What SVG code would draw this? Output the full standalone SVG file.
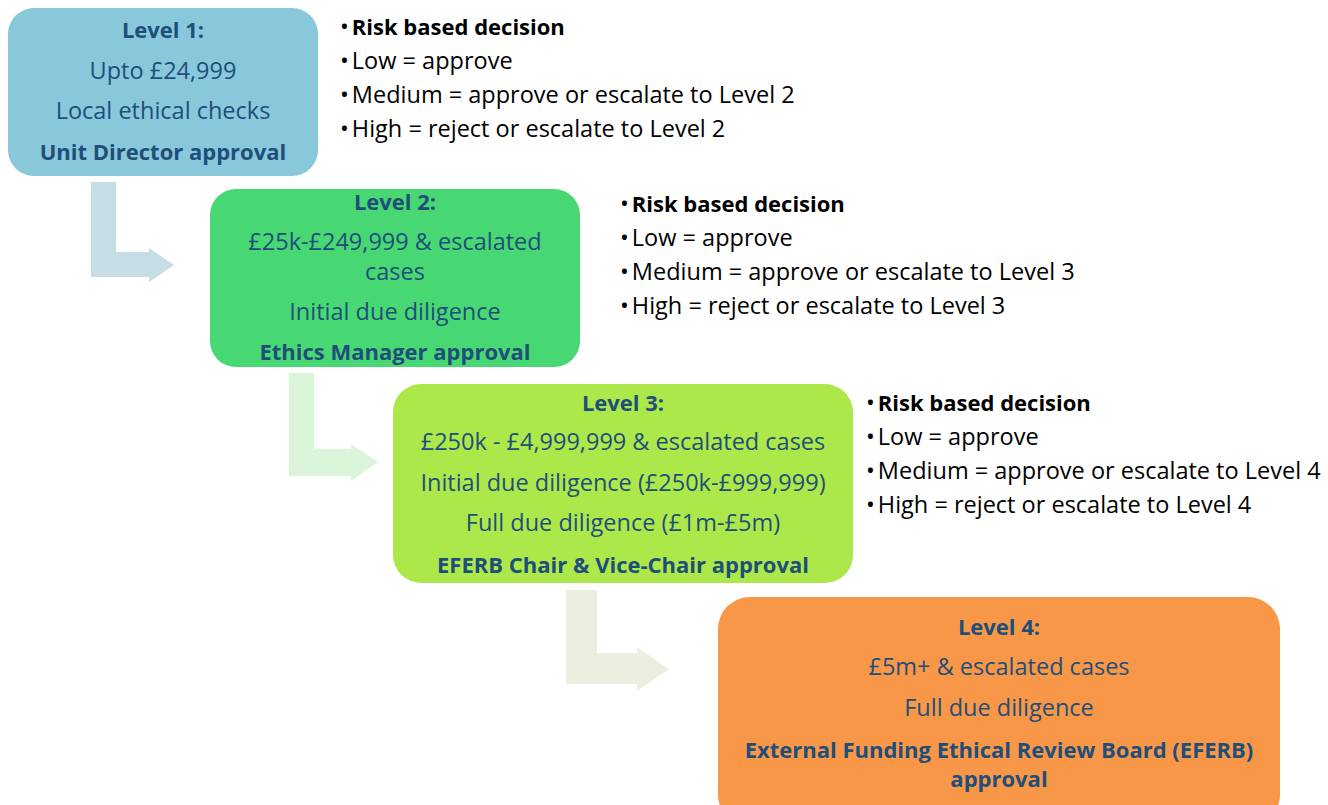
<svg xmlns="http://www.w3.org/2000/svg" width="1328" height="805" viewBox="0 0 1328 805">
  <style>
    text { font-family: "Open Sans", "Liberation Sans", sans-serif; font-size: 23.5px; }
    .box text { fill: #1F4E79; text-anchor: middle; }
    .b { font-weight: bold; font-size: 22px; }
    .side text { fill: #000000; }
  </style>
  <rect width="1328" height="805" fill="#ffffff"/>

  <!-- bent arrows linking the levels -->
  <g id="connectors">
    <path d="M91,182 H116 V252 H149 V248 L174,265 L149,282 V277 H91 Z" fill="#C5DEE6"/>
    <path d="M289,373 H314 V449 H351 V444 L378,462 L351,481 V476 H289 Z" fill="#DAF5D9"/>
    <path d="M566,590 H597 V653 H637 V647 L669,669 L637,691 V684 H566 Z" fill="#ECEFE0"/>
  </g>

  <g id="level1" class="box">
    <rect x="8" y="8" width="310" height="168" rx="26" fill="#89C7DA"/>
    <text x="163" y="38" class="b">Level 1:</text>
    <text x="163" y="79">Upto £24,999</text>
    <text x="163" y="119">Local ethical checks</text>
    <text x="163" y="160" class="b">Unit Director approval</text>
  </g>

  <g id="level2" class="box">
    <rect x="210" y="189" width="370" height="178" rx="26" fill="#48D873"/>
    <text x="395" y="210" class="b">Level 2:</text>
    <text x="395" y="250">£25k-£249,999 &amp; escalated</text>
    <text x="395" y="280">cases</text>
    <text x="395" y="320">Initial due diligence</text>
    <text x="395" y="360" class="b">Ethics Manager approval</text>
  </g>

  <g id="level3" class="box">
    <rect x="393" y="384" width="460" height="199" rx="28" fill="#ADE84B"/>
    <text x="623" y="411" class="b">Level 3:</text>
    <text x="623" y="450">£250k - £4,999,999 &amp; escalated cases</text>
    <text x="623" y="491">Initial due diligence (£250k-£999,999)</text>
    <text x="623" y="531">Full due diligence (£1m-£5m)</text>
    <text x="623" y="573" class="b">EFERB Chair &amp; Vice-Chair approval</text>
  </g>

  <g id="level4" class="box">
    <rect x="718" y="597" width="562" height="230" rx="32" fill="#F79747"/>
    <text x="999" y="635" class="b">Level 4:</text>
    <text x="999" y="675">£5m+ &amp; escalated cases</text>
    <text x="999" y="716">Full due diligence</text>
    <text x="999" y="758" class="b">External Funding Ethical Review Board (EFERB)</text>
    <text x="999" y="787" class="b">approval</text>
  </g>

  <g id="risk1" class="side">
    <text x="340" y="35">•<tspan dx="3" class="b">Risk based decision</tspan></text>
    <text x="340" y="69">•<tspan dx="3">Low = approve</tspan></text>
    <text x="340" y="103">•<tspan dx="3">Medium = approve or escalate to Level 2</tspan></text>
    <text x="340" y="137">•<tspan dx="3">High = reject or escalate to Level 2</tspan></text>
  </g>

  <g id="risk2" class="side">
    <text x="620" y="212">•<tspan dx="3" class="b">Risk based decision</tspan></text>
    <text x="620" y="246">•<tspan dx="3">Low = approve</tspan></text>
    <text x="620" y="280">•<tspan dx="3">Medium = approve or escalate to Level 3</tspan></text>
    <text x="620" y="314">•<tspan dx="3">High = reject or escalate to Level 3</tspan></text>
  </g>

  <g id="risk3" class="side">
    <text x="866" y="411">•<tspan dx="3" class="b">Risk based decision</tspan></text>
    <text x="866" y="445">•<tspan dx="3">Low = approve</tspan></text>
    <text x="866" y="479">•<tspan dx="3">Medium = approve or escalate to Level 4</tspan></text>
    <text x="866" y="513">•<tspan dx="3">High = reject or escalate to Level 4</tspan></text>
  </g>
</svg>
